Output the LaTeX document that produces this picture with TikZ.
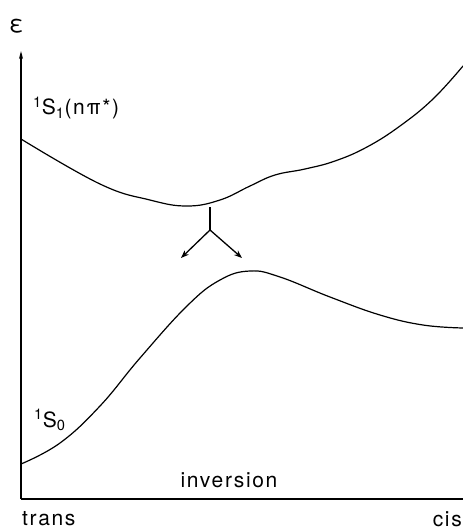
\documentclass[tikz,border=0pt]{standalone}
\usepackage{fontspec}
\setmainfont{TeX Gyre Heros}[LetterSpace=8]
\usetikzlibrary{arrows.meta}
\begin{document}
\begin{tikzpicture}[x=1pt,y=-1pt,
  curve/.style={line width=1.2pt, line cap=round, line join=round},
  axis/.style={line width=1.4pt},
  lbl/.style={inner sep=0pt, font=\fontsize{21}{24}\selectfont},
  arr/.style={line width=1.3pt, -{Stealth[length=8pt,width=6pt]}}]
\useasboundingbox (0,0) rectangle (463,531);
% axes
\coordinate (O) at (21,499);
\coordinate (ytop) at (21,51);
\coordinate (xend) at (463,499);
\draw[axis, -{Stealth[length=8pt,width=4pt]}] (O) -- (ytop);
\draw[axis] (O) -- (xend);
% upper curve S1
\draw[curve] plot[smooth, tension=0.7] coordinates {(21,139) (100,184) (150,200) (187,206) (220,200) (250,186) (275,175) (305,169) (335,161) (367,147) (400,126) (433,99) (463,66)};
% lower curve S0
\draw[curve] plot[smooth, tension=0.7] coordinates {(21,464) (60,443) (100,406) (140,358) (187,306) (220,280) (250,271) (280,277) (330,297) (380,315) (423,325) (463,328)};
% branching arrows
\coordinate (b0) at (210,207);
\coordinate (b1) at (210,230);
\coordinate (bl) at (181,258);
\coordinate (br) at (242,258);
\draw[line width=1.4pt] (b0) -- (b1);
\draw[arr] (b1) -- (bl);
\draw[arr] (b1) -- (br);
% labels
\node[lbl, anchor=west] (eps) at (9,26) {\fontsize{24}{26}\selectfont ε};
\node[lbl, anchor=west] (s1) at (33,108) {\textsuperscript{1}S\textsubscript{1}(nπ*)};
\node[lbl, anchor=west] (s0) at (34,420) {\textsuperscript{1}S\textsubscript{0}};
\node[lbl] (inv) at (229,480) {inversion};
\node[lbl, anchor=west] (trans) at (22,519) {trans};
\node[lbl, anchor=east] (cis) at (462,519) {cis};
\end{tikzpicture}
\end{document}
